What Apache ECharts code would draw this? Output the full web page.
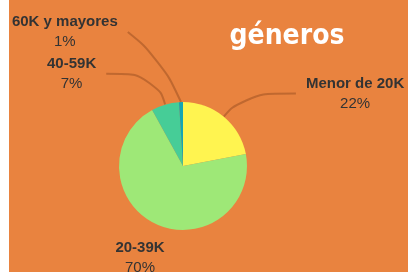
<!DOCTYPE html>
<html><head><meta charset="utf-8">
<script src="https://cdn.jsdelivr.net/npm/echarts@6/dist/echarts.min.js"></script>
<style>
html,body{margin:0;padding:0;background:#fff;overflow:hidden;width:408px;height:272px;position:relative;}
#c{position:absolute;left:-100px;top:0;width:774px;height:300px;}
#strip{position:absolute;left:0;top:0;width:9px;height:272px;background:#fff;z-index:5;}
</style></head><body>
<div id="c"></div><div id="strip"></div>
<script>
const titleLine1 = 'Ingresos anuales (en USD), por edad y';
const titleLine2 = 'géneros';
const categories = ['Menor de 20K', '20-39K', '40-59K', '60K y mayores'];
const values = [22, 70, 7, 1];
const colors = ['#FFF450', '#9EE877', '#46CD97', '#14A5B4'];

const lineColor = 'rgba(70,25,0,0.25)';
const itemLabelLines = [
  {length: 30, length2: 53, smooth: 0.6},
  {show: false, length: 37, length2: 0},
  {length: 32, length2: 50, smooth: 0.6},
  {length: 70, length2: 51, smooth: 0.5}
];

const titleStyle = {color: '#fff', fontFamily: 'DejaVu Sans Condensed', fontWeight: 'bold', fontSize: 28, lineHeight: 34};
const chart = echarts.init(document.getElementById('c'));
chart.setOption({
  backgroundColor: '#E9833F',
  animation: false,
  title: [
    {text: titleLine1, left: 'center', top: -39, textStyle: titleStyle},
    {text: titleLine2, left: 'center', top: 15, textStyle: titleStyle}
  ],
  series: [{
    type: 'pie',
    center: [283, 166],
    radius: 64,
    startAngle: 90,
    clockwise: true,
    avoidLabelOverlap: false,
    color: colors,
    data: categories.map((c, i) => ({
      name: c, value: values[i],
      labelLine: itemLabelLines[i],
      label: i === 1 ? {distanceToLabelLine: 0} : {}
    })),
    label: {
      formatter: '{b|{b}}\n{d|{d}%}',
      color: '#333',
      distanceToLabelLine: 10,
      rich: {
        b: {fontFamily: 'Liberation Sans', fontWeight: 'bold', fontSize: 15, lineHeight: 20, color: '#333', align: 'center'},
        d: {fontFamily: 'Liberation Sans', fontSize: 15, lineHeight: 20, color: '#333', align: 'center'}
      }
    },
    labelLine: {
      lineStyle: {color: lineColor, width: 2}
    },
    labelLayout: function (p) {
      if (p.dataIndex === 1) return {align: 'center'};
      if (p.dataIndex === 3 && p.labelLinePoints && p.labelLinePoints.length === 3) {
        const [a, b, c] = p.labelLinePoints;
        const mx = (a[0] + c[0]) / 2, my = (a[1] + c[1]) / 2;
        const mid = [mx + (b[0] - mx) * 0.25, my + (b[1] - my) * 0.25];
        return {labelLinePoints: [a, mid, c]};
      }
    }
  }]
});
</script></body></html>
